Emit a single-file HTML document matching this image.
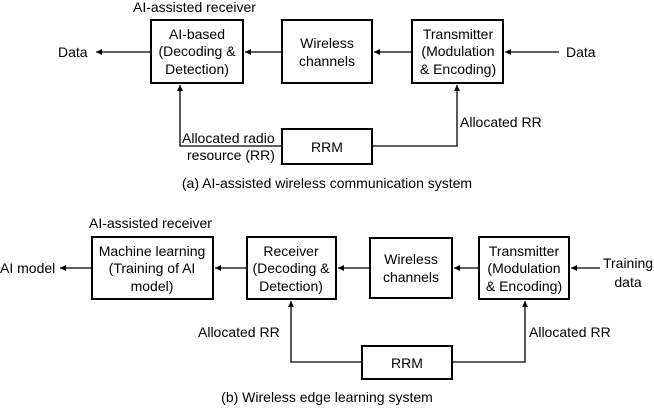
<!DOCTYPE html>
<html><head><meta charset="utf-8"><style>
html,body{margin:0;padding:0;background:#fff;}
svg text{font-family:"Liberation Sans",Arial,sans-serif;font-size:14px;fill:#000;}
</style></head><body>
<svg width="654" height="405" viewBox="0 0 654 405" xmlns="http://www.w3.org/2000/svg">
<defs><marker id="a" markerWidth="8" markerHeight="8" refX="6" refY="3" orient="auto" markerUnits="userSpaceOnUse"><path d="M0,0 L6,3 L0,6 z" fill="#000"/></marker></defs>
<g fill="none" stroke="#000" stroke-width="2">
<rect x="151" y="20" width="92" height="63"/>
<rect x="282" y="20" width="90" height="63"/>
<rect x="412" y="20" width="91" height="63"/>
<rect x="282" y="129" width="90" height="35"/>
<rect x="92" y="237" width="121" height="62"/>
<rect x="247" y="237" width="89" height="62"/>
<rect x="370" y="238" width="82" height="60"/>
<rect x="479" y="237" width="90" height="62"/>
<rect x="362" y="346" width="90" height="33"/>
</g>
<g stroke="#000" stroke-width="1.3" fill="none" marker-end="url(#a)">
<line x1="150" y1="52" x2="96" y2="52"/>
<line x1="282" y1="52" x2="245" y2="52"/>
<line x1="412" y1="52" x2="374" y2="52"/>
<line x1="559" y1="52" x2="505" y2="52"/>
<polyline points="282,146 180,146 180,85"/>
<polyline points="372,146 457,146 457,85"/>
<line x1="92" y1="268" x2="60" y2="268"/>
<line x1="247" y1="268" x2="215" y2="268"/>
<line x1="370" y1="268" x2="338" y2="268"/>
<line x1="479" y1="268" x2="454" y2="268"/>
<line x1="600" y1="268" x2="571" y2="268"/>
<polyline points="362,362 291,362 291,301"/>
<polyline points="452,362 525,362 525,301"/>
</g>
<text x="133" y="12">AI-assisted receiver</text>
<text x="197" y="39" text-anchor="middle">AI-based</text>
<text x="197" y="56" text-anchor="middle">(Decoding &amp;</text>
<text x="197" y="74" text-anchor="middle">Detection)</text>
<text x="327" y="48" text-anchor="middle">Wireless</text>
<text x="327" y="66" text-anchor="middle">channels</text>
<text x="458" y="39" text-anchor="middle">Transmitter</text>
<text x="458" y="56" text-anchor="middle">(Modulation</text>
<text x="458" y="74" text-anchor="middle">&amp; Encoding)</text>
<text x="58" y="57">Data</text>
<text x="566" y="57">Data</text>
<text x="327" y="152" text-anchor="middle">RRM</text>
<text x="460" y="127">Allocated RR</text>
<text x="182" y="143">Allocated radio</text>
<text x="187" y="160">resource (RR)</text>
<text x="327" y="188" text-anchor="middle">(a) AI-assisted wireless communication system</text>
<text x="89" y="228">AI-assisted receiver</text>
<text x="152" y="256" text-anchor="middle">Machine learning</text>
<text x="152" y="273" text-anchor="middle">(Training of AI</text>
<text x="152" y="291" text-anchor="middle">model)</text>
<text x="291" y="256" text-anchor="middle">Receiver</text>
<text x="291" y="273" text-anchor="middle">(Decoding &amp;</text>
<text x="291" y="291" text-anchor="middle">Detection)</text>
<text x="411" y="264" text-anchor="middle">Wireless</text>
<text x="411" y="282" text-anchor="middle">channels</text>
<text x="524" y="256" text-anchor="middle">Transmitter</text>
<text x="524" y="273" text-anchor="middle">(Modulation</text>
<text x="524" y="291" text-anchor="middle">&amp; Encoding)</text>
<text x="0" y="273">AI model</text>
<text x="628" y="268" text-anchor="middle">Training</text>
<text x="628" y="287" text-anchor="middle">data</text>
<text x="407" y="368" text-anchor="middle">RRM</text>
<text x="198" y="337">Allocated RR</text>
<text x="529" y="337">Allocated RR</text>
<text x="327" y="402" text-anchor="middle">(b) Wireless edge learning system</text>
</svg>
</body></html>
